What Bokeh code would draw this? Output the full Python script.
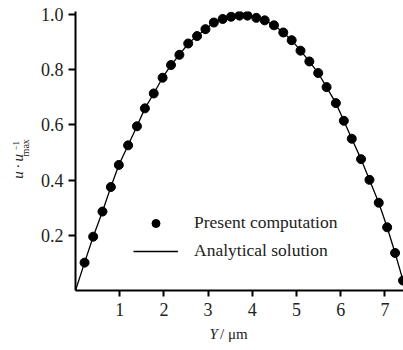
import math
from bokeh.plotting import figure
from bokeh.models import Legend, LegendItem, FixedTicker, Label, Range1d
from bokeh.embed import file_html
from bokeh.resources import INLINE

# Present computation
y_points = [0.205, 0.40, 0.61, 0.80, 0.98, 1.19, 1.39, 1.57, 1.77, 1.97,
            2.16, 2.35, 2.55, 2.75, 2.94, 3.13, 3.33, 3.52, 3.71, 3.89,
            4.09, 4.28, 4.49, 4.70, 4.89, 5.09, 5.29, 5.49, 5.68, 5.89,
            6.07, 6.25, 6.46, 6.65, 6.86, 7.05, 7.23, 7.41]
u_points = [0.101, 0.195, 0.286, 0.375, 0.455, 0.526, 0.595, 0.660, 0.714, 0.771,
            0.817, 0.854, 0.895, 0.922, 0.947, 0.971, 0.984, 0.992, 0.996, 0.996,
            0.988, 0.979, 0.961, 0.935, 0.907, 0.869, 0.830, 0.788, 0.737, 0.679,
            0.615, 0.550, 0.476, 0.401, 0.318, 0.229, 0.136, 0.036]

# Analytical solution (curve)
y_line = [0.0] + y_points + [7.47]
u_line = [0.0] + u_points + [0.0]

x_ticks = [1, 2, 3, 4, 5, 6, 7]
x_tick_labels = ["1", "2", "3", "4", "5", "6", "7"]
y_ticks = [0.2, 0.4, 0.6, 0.8, 1.0]
y_tick_labels = ["0.2", "0.4", "0.6", "0.8", "1.0"]

FONT = "Liberation Serif"
TXT = "#222222"

p = figure(width=403, height=350, output_backend="svg", toolbar_location=None,
           x_range=Range1d(0, 7.42), y_range=Range1d(0, 1.011),
           min_border_left=75, min_border_right=0, min_border_top=11,
           min_border_bottom=56)
p.outline_line_color = None
p.xgrid.visible = False
p.ygrid.visible = False

line_r = p.line(y_line, u_line, line_color="black", line_width=1.3)
pts_r = p.scatter(y_points, u_points, size=9, fill_color="black", line_color="black")

for ax, ticks, labels in ((p.xaxis[0], x_ticks, x_tick_labels), (p.yaxis[0], y_ticks, y_tick_labels)):
    ax.ticker = FixedTicker(ticks=ticks)
    ax.major_label_overrides = {t: l for t, l in zip(ticks, labels)}
    ax.minor_tick_line_color = None
    ax.axis_line_width = 2
    ax.axis_line_color = "black"
    ax.major_tick_line_width = 2
    ax.major_tick_in = 0
    ax.major_label_text_font = FONT
    ax.major_label_text_font_size = "18px"
    ax.major_label_text_color = TXT

p.xaxis.major_tick_out = 6
p.xaxis.major_label_standoff = 6
p.yaxis.major_tick_out = 7
p.yaxis.major_label_standoff = 5

legend = Legend(items=[LegendItem(label="Present computation", renderers=[pts_r]),
                       LegendItem(label="Analytical solution", renderers=[line_r])],
                location=(58, 29), padding=0, margin=0, spacing=7,
                glyph_width=45, glyph_height=20, label_standoff=16,
                border_line_color=None, background_fill_alpha=0,
                label_text_font=FONT, label_text_font_size="17.5px",
                label_text_color=TXT)
p.add_layout(legend, "center")

# y axis label: u · u_max^-1 (rotated), placed in the side panel so it is not clipped
p.add_layout(Label(x=-1.29, y=0.405, text="u\u2009·\u2009u", angle=math.pi / 2,
                   text_font=FONT, text_font_style="italic", text_font_size="15px",
                   text_align="left", text_baseline="alphabetic", text_color=TXT), "left")
p.add_layout(Label(x=-1.13, y=0.486, text="max", angle=math.pi / 2,
                   text_font=FONT, text_font_size="10px",
                   text_align="left", text_baseline="alphabetic", text_color=TXT), "left")
p.add_layout(Label(x=-1.335, y=0.507, text="−1", angle=math.pi / 2,
                   text_font=FONT, text_font_size="9px",
                   text_align="left", text_baseline="alphabetic", text_color=TXT), "left")

# x axis label: Y / μm
p.add_layout(Label(x=3.03, y=-0.157, text="Y", text_font=FONT, text_font_style="italic",
                   text_font_size="15px", text_align="left", text_baseline="alphabetic",
                   text_color=TXT), "below")
p.add_layout(Label(x=3.27, y=-0.157, text="/ μm", text_font=FONT,
                   text_font_size="15px", text_align="left", text_baseline="alphabetic",
                   text_color=TXT), "below")

open("out.html", "w").write(file_html(p, INLINE))
